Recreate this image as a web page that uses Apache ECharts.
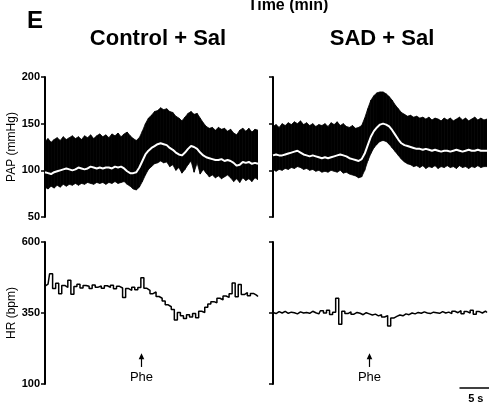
<!DOCTYPE html>
<html><head><meta charset="utf-8">
<script src="https://cdn.jsdelivr.net/npm/echarts@6/dist/echarts.min.js"></script>
<style>html,body{margin:0;padding:0;background:#fff}#main{width:489px;height:408px}</style>
</head><body><div id="main"></div>
<script>
// time (s), sampled every 0.5 s
const timeS = [0,0.5,1,1.5,2,2.5,3,3.5,4,4.5,5,5.5,6,6.5,7,7.5,8,8.5,9,9.5,10,10.5,11,11.5,12,12.5,13,13.5,14,14.5,15,15.5,16,16.5,17,17.5,18,18.5,19,19.5,20,20.5,21,21.5,22,22.5,23,23.5,24,24.5,25,25.5,26,26.5,27,27.5,28,28.5,29,29.5,30,30.5,31,31.5,32,32.5,33,33.5,34,34.5,35];

// Control + Sal : PAP envelope (mmHg) and mean
const papUpperCtrl = [131,134,130,133,135,132,136,133,135,137,134,136,133,137,135,138,134,137,139,136,138,135,139,137,140,136,139,141,137,134,132,135,142,150,156,159,163,164,167,165,166,163,162,158,156,153,157,161,163,160,161,156,151,147,145,146,143,146,144,145,142,144,140,138,143,145,142,145,141,144,143];
const papLowerCtrl = [82,80,83,81,84,82,85,83,85,84,86,84,86,85,87,86,85,87,86,87,85,87,86,88,86,87,88,85,83,80,79,82,88,95,101,104,107,108,110,108,109,104,106,100,103,97,101,106,110,98,108,96,101,97,93,95,92,94,91,93,95,92,88,91,87,92,89,91,88,92,90];
const papMeanCtrl = [98,97,96,98,99,100,101,102,101,100,101,103,102,101,102,104,103,102,103,102,103,103,102,104,103,104,102,99,97,97,98,103,110,117,121,124,126,128,129,128,127,124,122,119,117,116,119,123,126,125,123,119,116,114,113,112,111,111,112,110,111,110,108,105,106,109,108,109,107,108,107];

// SAD + Sal : PAP envelope (mmHg) and mean
const papUpperSad = [147,149,146,150,148,151,149,152,150,153,149,151,148,150,147,149,148,150,147,151,149,152,148,150,147,146,148,145,146,148,156,166,175,180,183,184,184,182,179,175,170,166,162,160,158,159,157,158,156,157,155,157,154,156,155,153,156,154,156,153,155,157,154,156,153,155,157,154,156,154,155];
const papLowerSad = [101,99,101,100,102,101,103,102,104,103,101,102,100,101,99,100,98,99,98,100,99,98,100,97,98,96,95,94,92,93,100,110,118,124,128,131,132,131,128,124,120,116,112,109,107,106,104,105,103,105,102,104,103,105,102,104,103,105,103,104,102,105,103,104,102,104,103,105,103,104,104];
const papMeanSad = [116,117,116,116,117,118,119,120,121,119,117,116,115,116,115,114,113,114,113,114,115,116,117,116,115,113,112,111,110,112,118,127,136,142,146,149,150,149,147,143,138,133,129,127,126,125,124,123,123,122,123,122,121,122,121,120,121,121,120,121,122,121,120,121,122,121,121,122,121,121,121];

// Heart rate (bpm)
const hrCtrl = [445,452,488,436,455,418,447,440,465,416,443,451,438,447,444,436,449,441,445,437,446,440,448,435,444,438,405,436,430,441,432,440,474,437,430,418,424,408,402,392,379,372,362,325,352,340,331,344,336,348,333,356,352,370,382,390,386,402,396,410,405,418,456,407,450,415,422,411,419,413,408];
const hrSad = [352,348,355,350,356,349,353,351,347,354,350,352,349,356,351,347,358,350,360,345,353,402,310,356,348,354,346,352,349,344,351,347,343,346,340,344,336,341,304,332,338,343,340,347,344,350,347,352,349,354,350,348,353,351,349,355,350,353,348,356,351,358,347,355,350,360,346,355,350,357,352];

const papTicks = [50, 200, 50];   // min, max, interval
const hrTicks = [100, 600, 250];
const pheTime = 15.7;
const scaleBarSec = 5;

const FONT = 'Liberation Sans, Arial, sans-serif';
function pairs(a){ return a.map((v,i)=>[timeS[i], v]); }
// segments between consecutive samples: [t0, lo0, hi0, t1, lo1, hi1]
function segs(u,l){
  const out = [];
  for (let i=0;i<timeS.length-1;i++) out.push([timeS[i], l[i], u[i], timeS[i+1], l[i+1], u[i+1]]);
  return out;
}

const grids = [
  {left:45, top:77, width:213, height:140},
  {left:273, top:77, width:214, height:140},
  {left:45, top:242, width:213, height:142},
  {left:273, top:242, width:214, height:142}
];
const xAxes = grids.map((g,i)=>({type:'value', gridIndex:i, min:0, max:35, show:false}));
function yAx(i, ticks, name, showLabel){
  return {type:'value', gridIndex:i, min:ticks[0], max:ticks[1], interval:ticks[2],
    name: name, nameLocation:'middle', nameGap:27, nameRotate:90,
    nameTextStyle:{fontFamily:FONT, fontSize:12, color:'#000'},
    axisLine:{show:true, lineStyle:{color:'#000', width:2}},
    axisTick:{show:true, length:4, lineStyle:{color:'#000', width:1.5}},
    axisLabel:{show:showLabel, fontFamily:FONT, fontSize:11, fontWeight:'bold', color:'#000', margin:5},
    splitLine:{show:false}};
}
const yAxes = [yAx(0,papTicks,'PAP (mmHg)',true), yAx(1,papTicks,'',false), yAx(2,hrTicks,'HR (bpm)',true), yAx(3,hrTicks,'',false)];

function band(gi, upper, lower, mean){
  return [
    {type:'custom', xAxisIndex:gi, yAxisIndex:gi, data:segs(upper,lower), silent:true, z:2, clip:true,
      encode:{x:[0,3], y:[1,2,4,5]},
      renderItem:function(params, api){
        const a = api.coord([api.value(0), api.value(1)]);
        const b = api.coord([api.value(0), api.value(2)]);
        const c = api.coord([api.value(3), api.value(5)]);
        const d = api.coord([api.value(3), api.value(4)]);
        return {type:'polygon', shape:{points:[a,b,c,d]}, style:{fill:'#000', stroke:'#000', lineWidth:0.8}};
      }},
    {type:'line', xAxisIndex:gi, yAxisIndex:gi, data:pairs(mean), symbol:'none', lineStyle:{width:2,color:'#fff'}, silent:true, z:5}
  ];
}
function hr(gi, vals){
  return {type:'line', xAxisIndex:gi, yAxisIndex:gi, data:pairs(vals), step:'middle', symbol:'none', lineStyle:{width:1.5,color:'#000'}, silent:true};
}

const option = {
  animation:false,
  grid: grids, xAxis: xAxes, yAxis: yAxes,
  series: [].concat(band(0,papUpperCtrl,papLowerCtrl,papMeanCtrl), band(1,papUpperSad,papLowerSad,papMeanSad), [hr(2,hrCtrl), hr(3,hrSad)]),
  graphic: [
    {type:'text', x:288, y:-2, style:{text:'Time (min)', font:'bold 16px '+FONT, fill:'#000', align:'center', verticalAlign:'top'}},
    {type:'text', x:27, y:9, style:{text:'E', font:'bold 24px '+FONT, fill:'#000', verticalAlign:'top'}},
    {type:'text', x:158, y:28, style:{text:'Control + Sal', font:'bold 22px '+FONT, fill:'#000', align:'center', verticalAlign:'top'}},
    {type:'text', x:382, y:28, style:{text:'SAD + Sal', font:'bold 22px '+FONT, fill:'#000', align:'center', verticalAlign:'top'}}
  ]
};
const chart = echarts.init(document.getElementById('main'));
chart.setOption(option);

// annotations positioned from the axes
const extra = [];
[2,3].forEach(gi=>{
  const p1 = chart.convertToPixel({gridIndex:gi}, [pheTime, 160]);
  const p2 = chart.convertToPixel({gridIndex:gi}, [pheTime, 205]);
  const x = Math.round(p1[0]) + 0.5;
  extra.push({type:'line', shape:{x1:x, y1:p1[1], x2:x, y2:p2[1]+4}, style:{stroke:'#000', lineWidth:1.2}});
  extra.push({type:'polygon', shape:{points:[[x-2.8,p2[1]+5],[x+2.8,p2[1]+5],[x,p2[1]-1]]}, style:{fill:'#000'}});
  extra.push({type:'text', x:x, y:p1[1]+4, style:{text:'Phe', font:'13px '+FONT, fill:'#000', align:'center', verticalAlign:'top'}});
});
const b1 = chart.convertToPixel({gridIndex:3}, [35.5 - scaleBarSec, 100]);
const b2 = chart.convertToPixel({gridIndex:3}, [35.5, 100]);
extra.push({type:'line', shape:{x1:b1[0], y1:388, x2:b2[0], y2:388}, style:{stroke:'#000', lineWidth:1.5}});
extra.push({type:'text', x:(b1[0]+b2[0])/2 + 1, y:393, style:{text:'5 s', font:'bold 11px '+FONT, fill:'#000', align:'center', verticalAlign:'top'}});
chart.setOption({graphic: option.graphic.concat(extra)});
</script>
</body></html>
